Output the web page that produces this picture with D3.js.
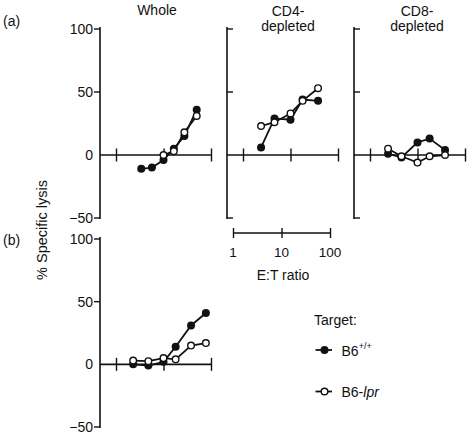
<!DOCTYPE html>
<html><head><meta charset="utf-8">
<script src="https://cdn.jsdelivr.net/npm/d3@7"></script>
<style>
body{margin:0;background:#fff;}
text{font-family:Arial,"Liberation Sans",Helvetica,sans-serif;fill:#111;}
</style></head>
<body><svg id="c" width="468" height="439"></svg>
<script>
// ---- data ----
const panelTitles = [["Whole"], ["CD4-", "depleted"], ["CD8-", "depleted"], []];
const yTicks = [-50, 0, 50, 100];
const xTicks = [1, 10, 100];
const seriesNames = ["B6+/+", "B6-lpr"];

const wholeET  = [3.4, 5.7, 10, 16.5, 27.5, 50];
const wholeWT  = [-11, -10, -4, 5, 15, 36];
const wholeLpr = [null, null, 0, 3, 18, 31];

const cd4ET  = [2.4, 4.6, 10, 18, 38];
const cd4WT  = [6, 29, 28, 44, 43];
const cd4Lpr = [23, 26, 33, 43, 53];

const cd8ET  = [2.4, 4.6, 10, 18, 38];
const cd8WT  = [1, -2, 10, 13, 4];
const cd8Lpr = [5, -1, -6, -1, 0];

const bET  = [2.3, 4.8, 10, 18, 38, 78];
const bWT  = [0, -1, 2, 14, 31, 41];
const bLpr = [3, 2.5, 5, 4, 15, 17];

// ---- layout ----
const svg = d3.select("#c");
const panels = [
  {ax:100, xr:[116,211], yr:[218,29], et:wholeET, wt:wholeWT, lpr:wholeLpr, labels:true, title:panelTitles[0], tx:157},
  {ax:227, xr:[243,338], yr:[218,29], et:cd4ET, wt:cd4WT, lpr:cd4Lpr, labels:false, title:panelTitles[1], tx:288},
  {ax:354, xr:[370,465], yr:[218,29], et:cd8ET, wt:cd8WT, lpr:cd8Lpr, labels:false, title:panelTitles[2], tx:417},
  {ax:100, xr:[116,211], yr:[427,239], et:bET, wt:bWT, lpr:bLpr, labels:true, title:panelTitles[3], tx:157}
];

const RF = 4, RO = 3.3;
panels.forEach(p => {
  const x = d3.scaleLog().domain([1,100]).range(p.xr);
  const y = d3.scaleLinear().domain([-50,100]).range(p.yr);
  const g = svg.append("g");
  // y axis
  g.append("line").attr("x1",p.ax).attr("x2",p.ax).attr("y1",y(100)-2).attr("y2",y(-50)+1)
    .attr("stroke","#111").attr("stroke-width",1.6);
  const yt = yTicks.filter(v => v !== 0);
  g.selectAll(".yt").data(yt).join("line")
    .attr("x1",p.ax).attr("x2",p.labels ? p.ax-6 : p.ax+6)
    .attr("y1",d=>y(d)).attr("y2",d=>y(d)).attr("stroke","#111").attr("stroke-width",1.4);
  if (p.labels) {
    g.selectAll(".yl").data(yTicks).join("text")
      .attr("x",p.ax-7).attr("y",d=>y(d)).attr("dy","0.36em").attr("text-anchor","end")
      .attr("font-size",14).text(d => d < 0 ? "\u2212" + Math.abs(d) : d);
  }
  // x axis
  const y0 = y(0);
  g.append("line").attr("x1",p.ax).attr("x2",p.xr[1]).attr("y1",y0).attr("y2",y0)
    .attr("stroke","#111").attr("stroke-width",1.6);
  const xa = d3.axisBottom(x).tickValues(xTicks).tickSize(13).tickFormat("");
  const xg = g.append("g").attr("transform",`translate(0,${y0-6.5})`).call(xa);
  xg.select(".domain").remove();
  xg.selectAll("line").attr("stroke","#111").attr("stroke-width",1.4);
  // title
  p.title.forEach((t,i) => {
    g.append("text").attr("x",p.tx).attr("y",p.title.length>1 ? 16+i*15 : 15)
      .attr("text-anchor","middle").attr("font-size",14).text(t);
  });
  // series
  const line = d3.line().defined(d => d !== null).x((d,i)=>x(p.et[i])).y(d=>y(d));
  g.append("path").datum(p.wt).attr("d",line).attr("fill","none").attr("stroke","#111").attr("stroke-width",1.8);
  g.append("path").datum(p.lpr).attr("d",line).attr("fill","none").attr("stroke","#111").attr("stroke-width",1.8);
  g.selectAll(".f").data(p.wt).join("circle")
    .attr("cx",(d,i)=>x(p.et[i])).attr("cy",d=>y(d)).attr("r",RF).attr("fill","#111");
  g.selectAll(".o").data(p.lpr.map((v,i)=>({v,i})).filter(d=>d.v!==null)).join("circle")
    .attr("cx",d=>x(p.et[d.i])).attr("cy",d=>y(d.v)).attr("r",RO)
    .attr("fill","#fff").attr("stroke","#111").attr("stroke-width",1.4);
});

// panel letters
svg.append("text").attr("x",3).attr("y",26).attr("font-size",14).text("(a)");
svg.append("text").attr("x",3).attr("y",245).attr("font-size",14).text("(b)");

// y label
svg.append("text").attr("transform","translate(47,230) rotate(-90)").attr("text-anchor","middle")
  .attr("font-size",14.5).text("% Specific lysis");

// scale bar
const sx = d3.scaleLog().domain([1,100]).range([233,330]);
const sbY = 233;
svg.append("line").attr("x1",sx(1)).attr("x2",sx(100)).attr("y1",sbY).attr("y2",sbY)
  .attr("stroke","#111").attr("stroke-width",1.6);
const sg = svg.append("g").attr("transform",`translate(0,${sbY-5})`)
  .call(d3.axisBottom(sx).tickValues(xTicks).tickSize(10).tickFormat(""));
sg.select(".domain").remove();
sg.selectAll("line").attr("stroke","#111").attr("stroke-width",1.4);
svg.selectAll(".sbl").data(xTicks).join("text")
  .attr("x",d=>sx(d)).attr("y",257).attr("text-anchor","middle").attr("font-size",13.5).text(d=>d);
svg.append("text").attr("x",283).attr("y",280).attr("text-anchor","middle").attr("font-size",14).text("E:T ratio");

// legend
svg.append("text").attr("x",314).attr("y",325).attr("font-size",14).text("Target:");
const lg = [{y:350, filled:true}, {y:391.5, filled:false}];
lg.forEach((l,i) => {
  svg.append("line").attr("x1",315.5).attr("x2",332).attr("y1",l.y).attr("y2",l.y)
    .attr("stroke","#111").attr("stroke-width",1.8);
  svg.append("circle").attr("cx",324.5).attr("cy",l.y).attr("r",l.filled?RF:RO)
    .attr("fill",l.filled?"#111":"#fff").attr("stroke","#111").attr("stroke-width",l.filled?0:1.4);
});
const t1 = svg.append("text").attr("x",341.5).attr("y",355.5).attr("font-size",14);
t1.append("tspan").text("B6");
t1.append("tspan").attr("font-size",9).attr("dy",-7).text("+/+");
const t2 = svg.append("text").attr("x",341.5).attr("y",397).attr("font-size",14);
t2.append("tspan").text("B6-");
t2.append("tspan").attr("font-style","italic").text("lpr");
</script>
</body></html>
